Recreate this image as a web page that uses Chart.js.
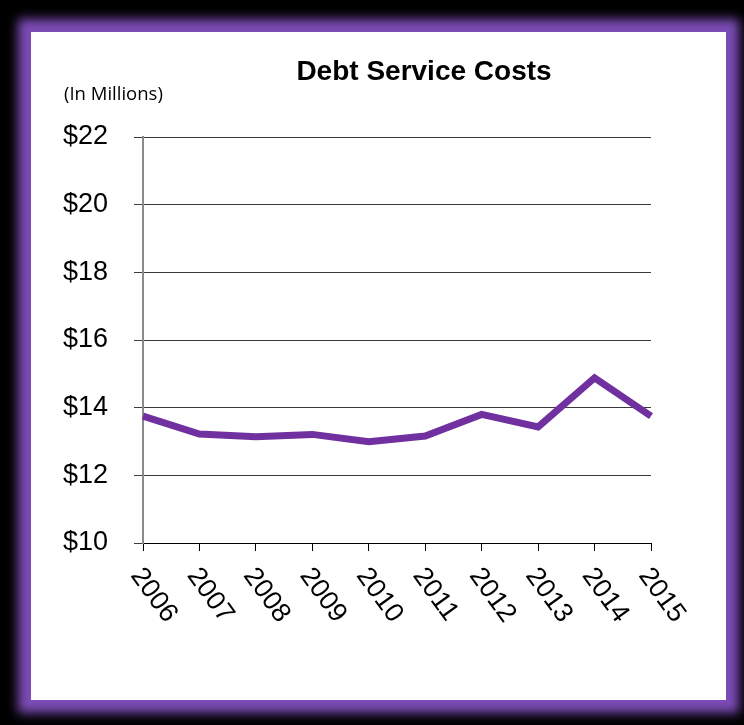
<!DOCTYPE html>
<html>
<head>
<meta charset="utf-8">
<script src="https://cdn.jsdelivr.net/npm/chart.js@4"></script>
<style>
  html, body { margin: 0; padding: 0; background: #000; }
  body { width: 744px; height: 725px; position: relative; overflow: hidden; }
  .frame {
    position: absolute; left: 31px; top: 32px; width: 695px; height: 668px;
    background: #fff;
    box-shadow: 0 0 10px 13px #7b4cb5;
  }
  #chart { position: absolute; left: 0; top: 0; }
</style>
</head>
<body>
<div class="frame"></div>
<canvas id="chart" width="744" height="725"></canvas>
<script>
// data
const titleText = "Debt Service Costs";
const unitText = "(In Millions)";
const years = ["2006", "2007", "2008", "2009", "2010", "2011", "2012", "2013", "2014", "2015"];
const costs = [13.75, 13.22, 13.14, 13.21, 12.99, 13.16, 13.80, 13.43, 14.88, 13.75];
const yMin = 10, yMax = 22, yStep = 2;

// title, unit note and the slanted year labels (Chart.js only rotates the other way)
const textPlugin = {
    id: "texts",
    afterDraw(chart) {
        const ctx = chart.ctx;
        const xs = chart.scales.x;
        const bottom = chart.chartArea.bottom;
        ctx.save();
        ctx.fillStyle = "#000";
        ctx.font = 'bold 28px "Liberation Sans", Arial, sans-serif';
        ctx.textAlign = "center";
        ctx.textBaseline = "alphabetic";
        ctx.fillText(titleText, 424, 80);

        ctx.font = '18.5px "Open Sans", sans-serif';
        ctx.textAlign = "left";
        ctx.fillText(unitText, 64, 100);

        ctx.font = '27px "Liberation Sans", Arial, sans-serif';
        years.forEach((yr, i) => {
            const px = xs.getPixelForValue(i);
            ctx.save();
            ctx.translate(px - 7, bottom + 28);
            ctx.rotate(54 * Math.PI / 180);
            ctx.textAlign = "left";
            ctx.textBaseline = "middle";
            ctx.fillText(yr, 0, 0);
            ctx.restore();
        });
        ctx.restore();
    }
};

new Chart(document.getElementById("chart").getContext("2d"), {
    type: "line",
    data: {
        labels: years,
        datasets: [{
            label: "Debt Service Costs",
            data: costs,
            borderColor: "#7030a0",
            borderWidth: 7,
            borderJoinStyle: "miter",
            pointRadius: 0,
            tension: 0,
            fill: false
        }]
    },
    options: {
        responsive: false,
        animation: false,
        devicePixelRatio: 1,
        layout: { padding: { left: 63, top: 137, right: 93, bottom: 174 } },
        plugins: {
            legend: { display: false },
            title: { display: false },
            tooltip: { enabled: false }
        },
        scales: {
            x: {
                type: "category",
                offset: false,
                ticks: { display: false },
                grid: { drawOnChartArea: false, drawTicks: true, tickLength: 8, color: "#000", lineWidth: 1 },
                border: { display: true, color: "#000", width: 1 }
            },
            y: {
                min: yMin,
                max: yMax,
                afterFit: s => { s.width = 80; },
                ticks: {
                    stepSize: yStep,
                    padding: 26,
                    color: "#000",
                    font: { family: '"Liberation Sans", Arial, sans-serif', size: 27 },
                    callback: v => "$" + v
                },
                grid: { color: "#3a3a3a", lineWidth: 1, drawTicks: true, tickLength: 9 },
                border: { display: true, color: "#8a8a8a", width: 2 }
            }
        }
    },
    plugins: [textPlugin]
});
</script>
</body>
</html>
